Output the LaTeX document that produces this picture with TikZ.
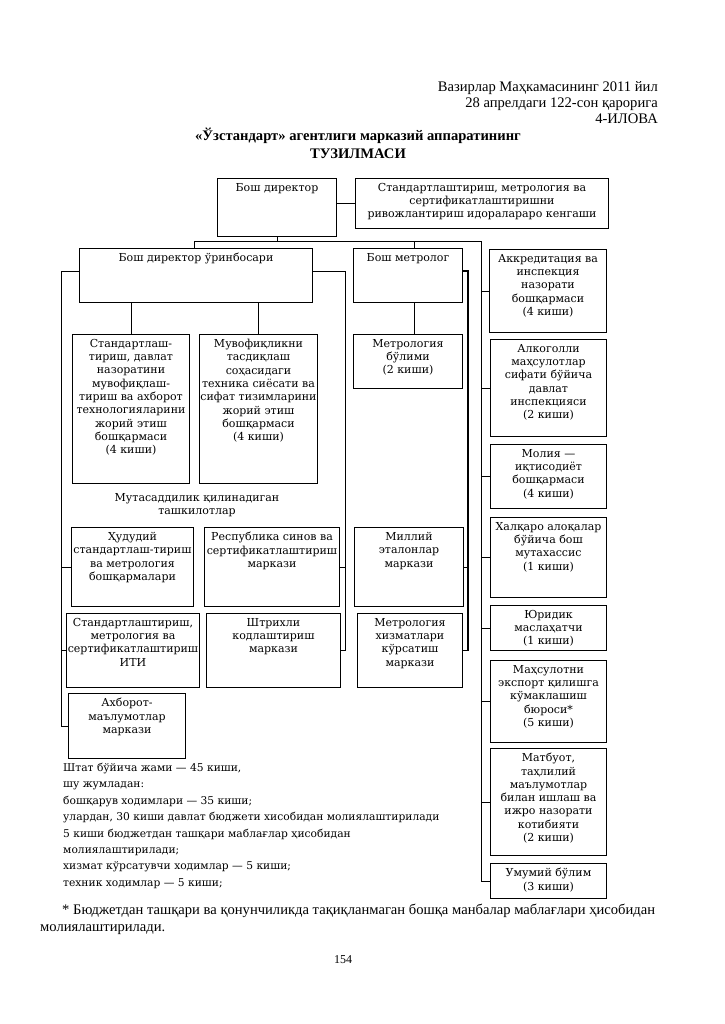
\documentclass[tikz,border=0pt]{standalone}
\usepackage{fontspec}
\setmainfont{Liberation Serif}
\newfontfamily\bxf{DejaVu Serif}
\newcommand\mybox[6]{%
  \node[box, minimum width=#4pt, minimum height=#5pt] (#1) at (#2,#3) {};
  \node[bt] (#1T) at ([yshift=-5pt]#1.north) {#6};}
\begin{document}
\begin{tikzpicture}[x=1pt,y=-1pt,
  box/.style={draw, line width=1pt, anchor=north west, inner sep=0pt},
  bt/.style={anchor=north, align=center, inner sep=0pt, font=\bxf\fontsize{11}{13.3}\selectfont},
  ln/.style={line width=0.8pt},
  thk/.style={line width=1.6pt},
]
\useasboundingbox[fill=white] (0,0) rectangle (724,1024);

% header
\node[anchor=north east, align=right, inner sep=0pt, font=\fontsize{14.6}{16}\selectfont] (head) at (658,81)
  {Вазирлар Маҳкамасининг 2011 йил\\28 апрелдаги 122-сон қарорига\\4-ИЛОВА};
\node[anchor=north, align=center, inner sep=0pt, font=\bfseries\fontsize{14.6}{18}\selectfont] (title) at (358,128)
  {«Ўзстандарт» агентлиги марказий аппаратининг\\ТУЗИЛМАСИ};

% top
\mybox{dir}{217}{178}{119}{58}{Бош директор}
\mybox{com}{355}{178}{253}{50}{Стандартлаштириш, метрология ва\\сертификатлаштиришни\\ривожлантириш идоралараро кенгаши}
\mybox{dep}{79}{248}{233}{54}{Бош директор ўринбосари}
\mybox{met}{353}{248}{109}{54}{Бош метролог}

% deputy group
\mybox{std}{72}{334}{117}{149}{Стандартлаш-\\тириш, давлат\\назоратини\\мувофиқлаш-\\тириш ва ахборот\\технологияларини\\жорий этиш\\бошқармаси\\(4 киши)}
\mybox{muv}{199}{334}{118}{149}{Мувофиқликни\\тасдиқлаш\\соҳасидаги\\техника сиёсати ва\\сифат тизимларини\\жорий этиш\\бошқармаси\\(4 киши)}
\mybox{mbo}{353}{334}{109}{54}{Метрология\\бўлими\\(2 киши)}

\node[bt, anchor=center] (mut) at (197,505) {Мутасаддилик қилинадиган\\ташкилотлар};

\mybox{hud}{71}{527}{122}{79}{Ҳудудий\\стандартлаш-тириш\\ва метрология\\бошқармалари}
\mybox{res}{204}{527}{135}{79}{Республика синов ва\\сертификатлаштириш\\маркази}
\mybox{mil}{354}{527}{109}{79}{Миллий\\эталонлар\\маркази}
\mybox{iti}{66}{613}{133}{74}{Стандартлаштириш,\\метрология ва\\сертификатлаштириш\\ИТИ}
\mybox{shtr}{206}{613}{134}{74}{Штрихли\\кодлаштириш\\маркази}
\mybox{mxk}{357}{613}{105}{74}{Метрология\\хизматлари\\кўрсатиш\\маркази}
\mybox{ax}{68}{693}{117}{65}{Ахборот-\\маълумотлар\\маркази}

% right column
\mybox{akk}{489}{249}{117}{83}{Аккредитация ва\\инспекция\\назорати\\бошқармаси\\(4 киши)}
\mybox{alk}{490}{339}{116}{97}{Алкоголли\\маҳсулотлар\\сифати бўйича\\давлат\\инспекцияси\\(2 киши)}
\mybox{mol}{490}{444}{116}{64}{Молия —\\иқтисодиёт\\бошқармаси\\(4 киши)}
\mybox{xal}{490}{517}{116}{80}{Халқаро алоқалар\\бўйича бош\\мутахассис\\(1 киши)}
\mybox{yur}{490}{605}{116}{45}{Юридик\\маслаҳатчи\\(1 киши)}
\mybox{max}{490}{660}{116}{82}{Маҳсулотни\\экспорт қилишга\\кўмаклашиш\\бюроси*\\(5 киши)}
\mybox{mat}{490}{748}{116}{107}{Матбуот,\\таҳлилий\\маълумотлар\\билан ишлаш ва\\ижро назорати\\котибияти\\(2 киши)}
\mybox{umu}{490}{863}{116}{35}{Умумий бўлим\\(3 киши)}

% connectors
\coordinate (busL) at (194,241);
\coordinate (busR) at (481,241);
\coordinate (mdrop) at (414,241);
\draw[ln] (dir.south) -- (dir.south |- busL);
\draw[ln] (dir.east |- com.west) -- (com.west);
\draw[ln] (busL |- dep.north) -- (busL) -- (busR) -- (busR |- umu.west) -- (umu.west);
\draw[ln] (mdrop) -- (mdrop |- met.north);
\foreach \n in {akk,alk,mol,xal,yur,max,mat}
  \draw[ln] (busR |- \n.west) -- (\n.west);
\draw[ln] (std.north |- dep.south) -- (std.north);
\draw[ln] (muv.north |- dep.south) -- (muv.north);
\draw[ln] (mdrop |- met.south) -- (mdrop |- mbo.north);

\coordinate (dR) at (345,271);
\draw[ln] (dep.east |- dR) -- (dR) -- (dR |- shtr.east) -- (shtr.east);
\draw[ln] (dR |- res.east) -- (res.east);
\coordinate (mR) at (468,271);
\draw[thk] (met.east |- mR) -- (mR) -- (mR |- mxk.east) -- (mxk.east);
\draw[ln] (mR |- mil.east) -- (mil.east);
\coordinate (lL) at (61,271);
\draw[ln] (dep.west |- lL) -- (lL) -- (lL |- ax.west) -- (ax.west);
\draw[ln] (lL |- hud.west) -- (hud.west);
\draw[ln] (lL |- iti.west) -- (iti.west);

% staff note
\node[anchor=north west, align=left, inner sep=0pt, font=\bxf\fontsize{10.7}{16.4}\selectfont] (staff) at (63,763)
  {Штат бўйича жами — 45 киши,\\шу жумладан:\\бошқарув ходимлари — 35 киши;\\улардан, 30 киши давлат бюджети хисобидан молиялаштирилади\\5 киши бюджетдан ташқари маблағлар ҳисобидан\\молиялаштирилади;\\хизмат кўрсатувчи ходимлар — 5 киши;\\техник ходимлар — 5 киши;};

% footnote
\node[anchor=north west, align=left, inner sep=0pt, font=\fontsize{14.6}{16.5}\selectfont] (foot) at (40,904)
  {\hspace*{22pt}* Бюджетдан ташқари ва қонунчиликда тақиқланмаган бошқа манбалар маблағлари ҳисобидан\\молиялаштирилади.};
\node[font=\fontsize{12}{14}\selectfont] (page) at (343,960) {154};
\end{tikzpicture}
\end{document}
